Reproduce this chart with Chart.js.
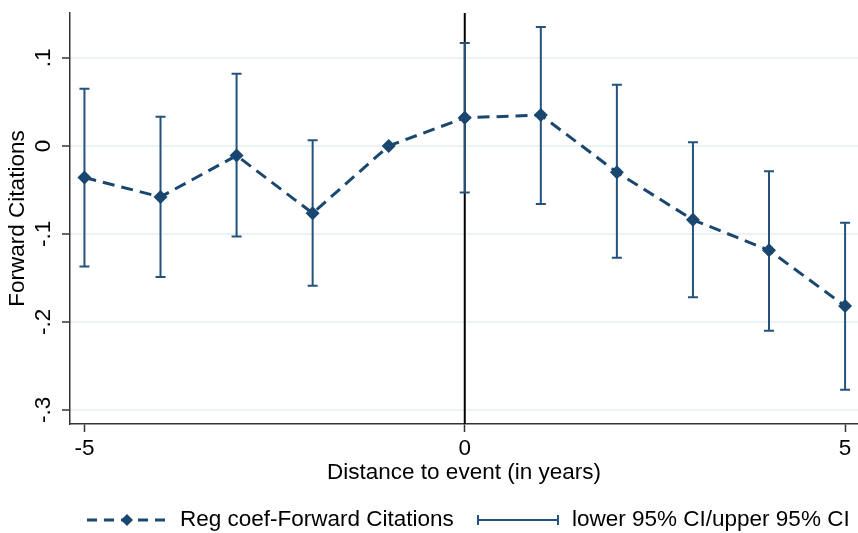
<!DOCTYPE html>
<html>
<head>
<meta charset="utf-8">
<script src="https://cdn.jsdelivr.net/npm/chart.js"></script>
<style>
  html, body { margin: 0; padding: 0; background: #fff; }
  #wrap { width: 858px; height: 533px; }
</style>
</head>
<body>
<div id="wrap"><canvas id="chart" width="858" height="533"></canvas></div>
<script>
// event-study data
const years = [-5, -4, -3, -2, -1, 0, 1, 2, 3, 4, 5];
const coef = [-0.036, -0.058, -0.011, -0.0765, 0, 0.032, 0.035, -0.030, -0.084, -0.1186, -0.182];
const ciLower = [-0.137, -0.149, -0.103, -0.159, null, -0.053, -0.066, -0.127, -0.172, -0.210, -0.277];
const ciUpper = [0.065, 0.033, 0.082, 0.0065, null, 0.117, 0.135, 0.0695, 0.004, -0.0287, -0.0872];

const xTicks = [-5, 0, 5];
const xTickLabels = ['-5', '0', '5'];
const yTicks = [-0.3, -0.2, -0.1, 0, 0.1];
const yTickLabels = ['-.3', '-.2', '-.1', '0', '.1'];

const xTitle = 'Distance to event (in years)';
const yTitle = 'Forward Citations';
const legendCoef = 'Reg coef-Forward Citations';
const legendCI = 'lower 95% CI/upper 95% CI';

const NAVY = '#1a476f';
const BAR = '#24527e';
const FONT = '"Liberation Sans", Arial, sans-serif';
const TXT = '22.5px ' + FONT;

// error bars, zero line, rotated labels and legend
const decor = {
  id: 'decor',
  beforeDatasetsDraw(chart) {
    const { ctx, chartArea, scales: { x, y } } = chart;
    ctx.save();
    // vertical line at event time
    const x0 = x.getPixelForValue(0);
    ctx.strokeStyle = '#000';
    ctx.lineWidth = 2;
    ctx.beginPath();
    ctx.moveTo(x0, chartArea.top);
    ctx.lineTo(x0, chartArea.bottom);
    ctx.stroke();
    // confidence intervals
    ctx.strokeStyle = BAR;
    ctx.lineWidth = 2;
    years.forEach((yr, i) => {
      if (ciLower[i] == null) return;
      const px = x.getPixelForValue(yr);
      const lo = y.getPixelForValue(ciLower[i]);
      const hi = y.getPixelForValue(ciUpper[i]);
      ctx.beginPath();
      ctx.moveTo(px, lo); ctx.lineTo(px, hi);
      ctx.moveTo(px - 5, lo); ctx.lineTo(px + 5, lo);
      ctx.moveTo(px - 5, hi); ctx.lineTo(px + 5, hi);
      ctx.stroke();
    });
    ctx.restore();
  },
  afterDraw(chart) {
    const { ctx, chartArea, scales: { x, y } } = chart;
    ctx.save();
    ctx.fillStyle = '#000';
    ctx.font = TXT;
    ctx.textAlign = 'center';
    ctx.textBaseline = 'middle';
    // y tick labels, rotated
    yTicks.forEach((v, i) => {
      ctx.save();
      ctx.translate(44, y.getPixelForValue(v));
      ctx.rotate(-Math.PI / 2);
      ctx.fillText(yTickLabels[i], 0, 0);
      ctx.restore();
    });
    // x tick labels
    xTicks.forEach((v, i) => ctx.fillText(xTickLabels[i], x.getPixelForValue(v), 449));
    // axis titles
    ctx.fillText(xTitle, 464, 473);
    ctx.save();
    ctx.translate(18, (chartArea.top + chartArea.bottom) / 2);
    ctx.rotate(-Math.PI / 2);
    ctx.fillText(yTitle, 0, 0);
    ctx.restore();

    // legend
    const ly = 520;
    ctx.strokeStyle = NAVY;
    ctx.lineWidth = 3;
    ctx.setLineDash([10, 7]);
    ctx.beginPath();
    ctx.moveTo(87, ly); ctx.lineTo(167, ly);
    ctx.stroke();
    ctx.setLineDash([]);
    ctx.fillStyle = NAVY;
    ctx.beginPath();
    ctx.moveTo(127, ly - 6); ctx.lineTo(133, ly); ctx.lineTo(127, ly + 6); ctx.lineTo(121, ly);
    ctx.closePath();
    ctx.fill();
    ctx.strokeStyle = BAR;
    ctx.lineWidth = 2;
    ctx.beginPath();
    ctx.moveTo(478, ly); ctx.lineTo(558, ly);
    ctx.moveTo(478, ly - 5); ctx.lineTo(478, ly + 5);
    ctx.moveTo(558, ly - 5); ctx.lineTo(558, ly + 5);
    ctx.stroke();
    ctx.fillStyle = '#000';
    ctx.textAlign = 'left';
    ctx.fillText(legendCoef, 180, ly);
    ctx.fillText(legendCI, 572, ly);
    ctx.restore();
  }
};

new Chart(document.getElementById('chart'), {
  type: 'scatter',
  data: {
    datasets: [{
      label: legendCoef,
      data: years.map((yr, i) => ({ x: yr, y: coef[i] })),
      showLine: true,
      borderColor: NAVY,
      backgroundColor: NAVY,
      borderWidth: 3,
      borderDash: [12, 7],
      pointStyle: 'rectRot',
      pointRadius: 7,
      pointBorderWidth: 0,
      tension: 0
    }]
  },
  options: {
    responsive: false,
    animation: false,
    devicePixelRatio: 1,
    layout: { autoPadding: false, padding: { top: 13, left: 0, right: 0, bottom: 0 } },
    plugins: { legend: { display: false }, tooltip: { enabled: false } },
    scales: {
      x: {
        type: 'linear',
        min: -5.19,
        max: 5.17,
        afterBuildTicks: s => { s.ticks = xTicks.map(v => ({ value: v })); },
        afterFit: s => { s.height = 109; },
        ticks: { display: false },
        grid: { drawOnChartArea: false, drawTicks: true, tickLength: 8, tickColor: '#333', tickWidth: 1.5 },
        border: { display: true, color: '#333', width: 1.5 }
      },
      y: {
        min: -0.316,
        max: 0.151,
        afterBuildTicks: s => { s.ticks = yTicks.map(v => ({ value: v })); },
        afterFit: s => { s.width = 70; },
        ticks: { display: false },
        grid: { color: '#eaf2f3', lineWidth: 2, drawTicks: true, tickLength: 8, tickColor: '#333', tickWidth: 1.5 },
        border: { display: true, color: '#333', width: 1.5 }
      }
    }
  },
  plugins: [decor]
});
</script>
</body>
</html>
